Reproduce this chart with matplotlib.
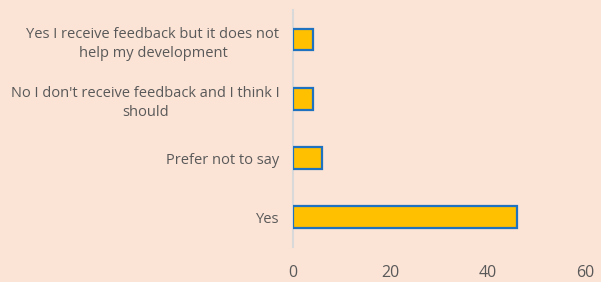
import matplotlib
matplotlib.use('Agg')
import matplotlib.pyplot as plt

categories = [
    'Yes',
    'Prefer not to say',
    "No I don't receive feedback and I think I\nshould",
    'Yes I receive feedback but it does not\nhelp my development',
]
counts = [46, 6, 4, 4]
x_ticks = [0, 20, 40, 60]

bg = '#FBE3D6'
txt = '#595959'

plt.rcParams['font.family'] = ['Open Sans', 'DejaVu Sans']

fig = plt.figure(figsize=(6.01, 2.82), dpi=100, facecolor=bg)
ax = fig.add_axes([0.488, 0.124, 0.485, 0.841], facecolor=bg)

ax.barh(range(len(categories)), counts, height=0.37, color='#FFC000',
        edgecolor='#1F72C0', linewidth=1.6, zorder=3)

ax.set_xlim(0, 60)
ax.set_ylim(-0.5, len(categories) - 0.5)
ax.set_xticks(x_ticks)
ax.set_xticklabels([str(t) for t in x_ticks], fontsize=11.5, color=txt)
ax.set_yticks(range(len(categories)))
ax.set_yticklabels(categories, fontsize=10.5, color=txt,
                   multialignment='center', linespacing=1.4)

for side in ('top', 'right', 'bottom'):
    ax.spines[side].set_visible(False)
ax.spines['left'].set_color('#D9D9D9')
ax.spines['left'].set_linewidth(1.5)
ax.tick_params(axis='both', length=0)
ax.tick_params(axis='x', pad=13)
ax.tick_params(axis='y', pad=10)

fig.savefig('out.png', dpi=100, facecolor=bg)
